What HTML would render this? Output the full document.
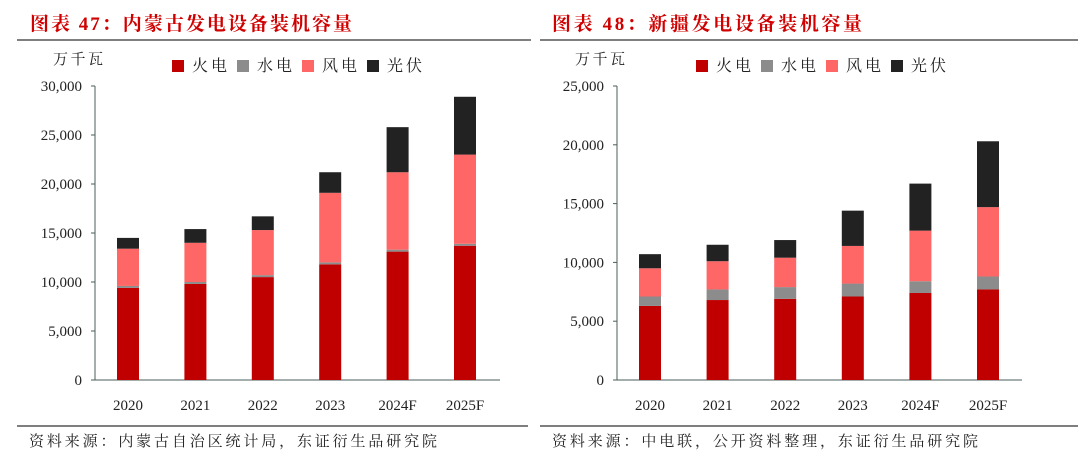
<!DOCTYPE html>
<html><head><meta charset="utf-8">
<style>
body{margin:0;width:1080px;height:469px;background:#fff;overflow:hidden;font-family:"Liberation Serif","Noto Serif CJK SC",serif;}
svg text{font-family:"Liberation Serif","Noto Serif CJK SC",serif;}
</style></head><body>
<svg id="s" width="1080" height="469">
<g>
<text x="30" y="30" font-size="19" font-weight="bold" fill="#D00000" textLength="322" lengthAdjust="spacing" font-family="Noto Serif CJK SC, serif">图表 47：内蒙古发电设备装机容量</text>
<line x1="17" y1="40" x2="531" y2="40" stroke="#555" stroke-width="1.5"/>
</g>
<g>
<text x="552" y="30" font-size="19" font-weight="bold" fill="#D00000" textLength="310" lengthAdjust="spacing" font-family="Noto Serif CJK SC, serif">图表 48：新疆发电设备装机容量</text>
<line x1="540" y1="40" x2="1078" y2="40" stroke="#555" stroke-width="1.5"/>
</g>
<line x1="17" y1="426" x2="528" y2="426" stroke="#333" stroke-width="1.2"/>
<line x1="540" y1="426" x2="1078" y2="426" stroke="#333" stroke-width="1.2"/>
<text x="29" y="446" font-size="15" fill="#222" textLength="408" lengthAdjust="spacing" font-family="Noto Serif CJK SC, serif">资料来源：内蒙古自治区统计局，东证衍生品研究院</text>
<text x="552" y="446" font-size="15" fill="#222" textLength="426" lengthAdjust="spacing" font-family="Noto Serif CJK SC, serif">资料来源：中电联，公开资料整理，东证衍生品研究院</text>
</svg>
<script>
const categories=["2020","2021","2022","2023","2024F","2025F"];
const seriesNames=["火电","水电","风电","光伏"];
const leftFire=[9400,9800,10500,11800,13100,13700];
const leftHydro=[200,200,200,200,200,200];
const leftWind=[3800,4000,4600,7100,7900,9100];
const leftSolar=[1100,1400,1400,2100,4600,5900];
const leftTicks=[0,5000,10000,15000,20000,25000,30000];
const rightFire=[6300,6800,6900,7100,7400,7700];
const rightHydro=[800,900,1000,1100,1000,1100];
const rightWind=[2400,2400,2500,3200,4300,5900];
const rightSolar=[1200,1400,1500,3000,4000,5600];
const rightTicks=[0,5000,10000,15000,20000,25000];
const colors=["#C00000","#8C8C8C","#FF6666","#222222"];
const NS="http://www.w3.org/2000/svg";
const svg=document.getElementById('s');
function mk(tag,attrs,parent){const e=document.createElementNS(NS,tag);for(const k in attrs)e.setAttribute(k,attrs[k]);(parent||svg).appendChild(e);return e;}
function fmt(v){return v.toLocaleString('en-US');}
function drawChart(prefix,ax0,ax1,first,step,ticks,series,legX){
  const y0=380,yTop=86,max=ticks[ticks.length-1];
  const y=v=>y0-(v/max)*(y0-yTop);
  const x=i=>first+i*step;
  const g=mk('g',{});
  
  
  const u=mk('text',{x:ax0-42,y:64,'font-size':15,fill:'#222',textLength:50,lengthAdjust:'spacing','font-family':'Noto Serif CJK SC, serif'},g);
  u.textContent='万千瓦';
  
  
  ticks.forEach(t=>{
    const l=mk('text',{x:ax0-13,y:y(t)+5,'font-size':15,fill:'#222','text-anchor':'end'},g);
    l.textContent=fmt(t);
    
    
    mk('line',{x1:ax0-4,x2:ax0,y1:y(t),y2:y(t),stroke:'#4a5e5a'},g);
  });
  mk('line',{x1:ax0,x2:ax0,y1:yTop,y2:y0,stroke:'#4a5e5a'},g);
  mk('line',{x1:ax0,x2:ax1,y1:y0,y2:y0,stroke:'#4a5e5a'},g);
  categories.forEach((c,i)=>{
    let acc=0;
    series.forEach((arr,k)=>{
      const v=arr[i];
      const r=mk('rect',{x:x(i)-11,width:22,y:y(acc+v),height:y(acc)-y(acc+v),fill:colors[k]},g);
      
      
      acc+=v;
    });
    const t=mk('text',{x:x(i),y:410,'font-size':15,fill:'#222','text-anchor':'middle'},g);
    t.textContent=c;
    
    
  });
  seriesNames.forEach((n,k)=>{
    const lx=legX+k*65;
    const le=mk('g',{},g);
    
    
    mk('rect',{x:lx,y:60,width:12,height:12,fill:colors[k]},le);
    const t=mk('text',{x:lx+20,y:71,'font-size':16,fill:'#222',textLength:35,lengthAdjust:'spacing','font-family':'Noto Serif CJK SC, serif'},le);
    t.textContent=n;
  });
}
drawChart('left',95,500,128,67.4,leftTicks,[leftFire,leftHydro,leftWind,leftSolar],172);
drawChart('right',617,1022,650,67.6,rightTicks,[rightFire,rightHydro,rightWind,rightSolar],696);
</script>
</body></html>
